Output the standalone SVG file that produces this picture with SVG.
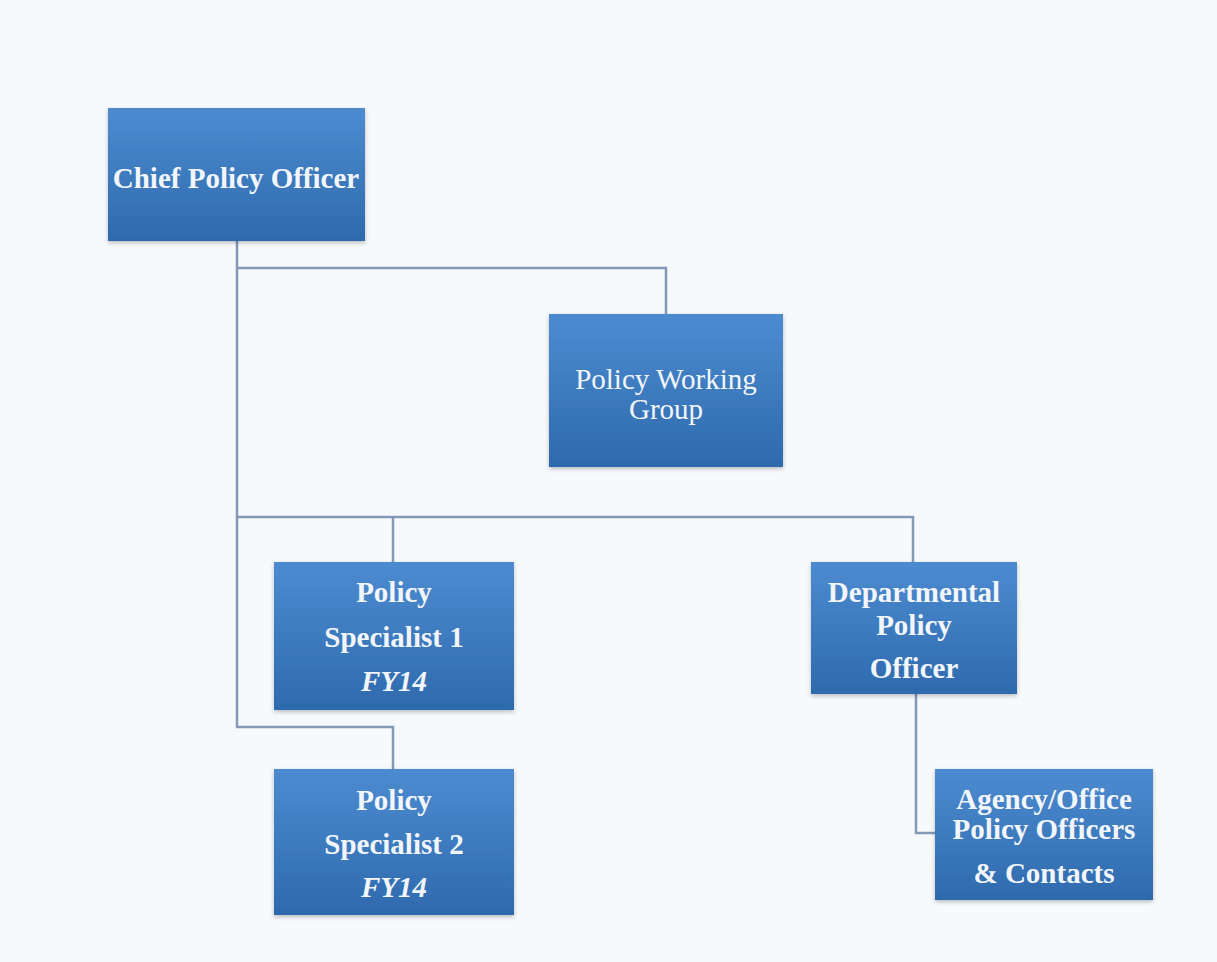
<svg xmlns="http://www.w3.org/2000/svg" width="1217" height="962" viewBox="0 0 1217 962">
<defs>
<linearGradient id="g" x1="0" y1="0" x2="0" y2="1">
<stop offset="0" stop-color="#4d8bd0"/>
<stop offset="1" stop-color="#2e6aad"/>
</linearGradient>
<filter id="sh" x="-10%" y="-10%" width="120%" height="125%">
<feDropShadow dx="0" dy="2" stdDeviation="2" flood-color="#000" flood-opacity="0.25"/>
</filter>
</defs>
<style>
.box{fill:url(#g);filter:url(#sh)}
.t{font-family:'Liberation Serif','Times New Roman',serif;font-size:29px;font-weight:bold;fill:#f2f6fb;text-anchor:middle}
.r{font-weight:normal}
.i{font-style:italic}
.c{fill:none;stroke:#8498b8;stroke-width:2.5}
</style>
<rect width="1217" height="962" fill="#f7fafd"/>
<g id="connectors">
<path class="c" d="M237 241V727H393V769"/>
<path class="c" d="M237 268H666V314"/>
<path class="c" d="M237 517H913V562"/>
<path class="c" d="M393 517V562"/>
<path class="c" d="M916 694V833H935"/>
</g>
<g id="chief">
<rect class="box" x="108" y="108" width="257" height="133"/>
<text class="t" x="236" y="188">Chief Policy Officer</text>
</g>
<g id="pwg">
<rect class="box" x="549" y="314" width="234" height="153"/>
<text class="t r" x="666" y="389">Policy Working</text>
<text class="t r" x="666" y="419">Group</text>
</g>
<g id="ps1">
<rect class="box" x="274" y="562" width="240" height="148"/>
<text class="t" x="394" y="602">Policy</text>
<text class="t" x="394" y="647">Specialist 1</text>
<text class="t i" x="394" y="691">FY14</text>
</g>
<g id="ps2">
<rect class="box" x="274" y="769" width="240" height="146"/>
<text class="t" x="394" y="810">Policy</text>
<text class="t" x="394" y="854">Specialist 2</text>
<text class="t i" x="394" y="897">FY14</text>
</g>
<g id="dpo">
<rect class="box" x="811" y="562" width="206" height="132"/>
<text class="t" x="914" y="602">Departmental</text>
<text class="t" x="914" y="635">Policy</text>
<text class="t" x="914" y="678">Officer</text>
</g>
<g id="agency">
<rect class="box" x="935" y="769" width="218" height="131"/>
<text class="t" x="1044" y="809">Agency/Office</text>
<text class="t" x="1044" y="839">Policy Officers</text>
<text class="t" x="1044" y="883">&amp; Contacts</text>
</g>
</svg>
